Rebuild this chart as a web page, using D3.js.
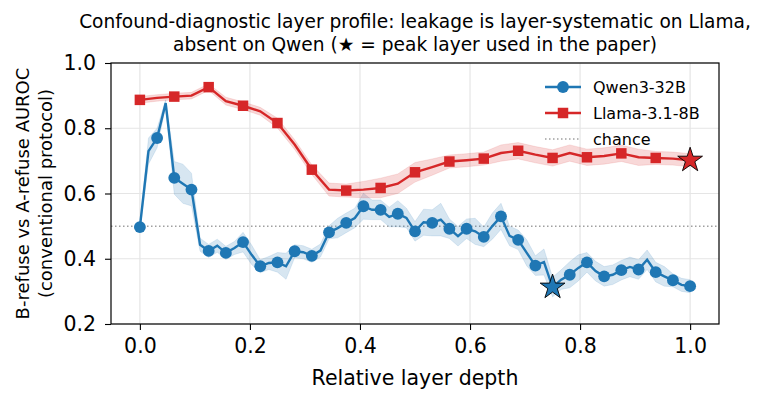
<!DOCTYPE html>
<html lang="en">
  <head>
    <meta charset="UTF-8" />
    <title>Confound-diagnostic layer profile</title>
    <script src="https://d3js.org/d3.v7.min.js"></script>
    <style>
      body { margin: 0; background: #fff; }
      text { font-family: "DejaVu Sans", sans-serif; fill: #000; }
    </style>
  </head>
  <body>
    <div id="chart-container"></div>

    <script>
      // Qwen3-32B: 65 layers (relative depth i/64)
      const qwenAuroc = [
        0.497, 0.73, 0.77, 0.877, 0.648, 0.63, 0.612, 0.443, 0.424, 0.44,
        0.418, 0.433, 0.451, 0.412, 0.377, 0.387, 0.389, 0.377, 0.423, 0.42,
        0.409, 0.425, 0.481, 0.494, 0.51, 0.525, 0.561, 0.55, 0.55, 0.528,
        0.538, 0.525, 0.484, 0.512, 0.51, 0.52, 0.492, 0.469, 0.492, 0.484,
        0.467, 0.5, 0.53, 0.47, 0.458, 0.418, 0.379, 0.39, 0.313, 0.336,
        0.351, 0.372, 0.389, 0.362, 0.346, 0.351, 0.365, 0.375, 0.367, 0.397,
        0.359, 0.346, 0.334, 0.32, 0.316
      ];
      const qwenSpread = [
        0.01, 0.04, 0.03, 0.01, 0.05, 0.06, 0.05, 0.02, 0.02, 0.02,
        0.02, 0.02, 0.03, 0.03, 0.02, 0.02, 0.03, 0.04, 0.02, 0.02,
        0.02, 0.02, 0.02, 0.03, 0.03, 0.03, 0.04, 0.03, 0.03, 0.03,
        0.04, 0.03, 0.03, 0.04, 0.04, 0.05, 0.03, 0.03, 0.03, 0.04,
        0.03, 0.04, 0.04, 0.03, 0.03, 0.04, 0.03, 0.04, 0.03, 0.03,
        0.04, 0.04, 0.03, 0.03, 0.03, 0.03, 0.03, 0.03, 0.03, 0.03,
        0.03, 0.03, 0.02, 0.02, 0.02
      ];
      // Llama-3.1-8B: 33 layers (relative depth i/32)
      const llamaAuroc = [
        0.887, 0.893, 0.897, 0.9, 0.926, 0.883, 0.869, 0.852, 0.816, 0.75,
        0.673, 0.612, 0.609, 0.612, 0.617, 0.63, 0.665, 0.681, 0.698, 0.702,
        0.707, 0.724, 0.731, 0.719, 0.709, 0.724, 0.711, 0.715, 0.723, 0.711,
        0.709, 0.707, 0.702
      ];
      const llamaSpread = [
        0.01, 0.01, 0.01, 0.01, 0.01, 0.012, 0.012, 0.012, 0.015, 0.015,
        0.015, 0.02, 0.02, 0.025, 0.03, 0.03, 0.03, 0.025, 0.02, 0.02,
        0.02, 0.025, 0.025, 0.025, 0.025, 0.025, 0.025, 0.025, 0.025, 0.025,
        0.02, 0.02, 0.02
      ];
      const qwenPeak = 48;   // layer index of star
      const llamaPeak = 32;
      const xTicks = [0.0, 0.2, 0.4, 0.6, 0.8, 1.0];
      const yTicks = [0.2, 0.4, 0.6, 0.8, 1.0];
      const chance = 0.5;

      const blue = "#1f77b4";
      const red = "#d62728";

      const W = 769, H = 402;
      const margin = { top: 63, right: 50, bottom: 78, left: 111 };
      const width = W - margin.left - margin.right;
      const height = H - margin.top - margin.bottom;

      const svg = d3.select("#chart-container").append("svg")
        .attr("width", W).attr("height", H);

      const x = d3.scaleLinear().domain([-0.0525, 1.0525]).range([0, width]);
      const y = d3.scaleLinear().domain([0.2, 1.0]).range([height, 0]);

      const g = svg.append("g")
        .attr("transform", "translate(" + margin.left + "," + margin.top + ")");

      // grid
      g.append("g").selectAll("line").data(xTicks).enter().append("line")
        .attr("x1", d => x(d)).attr("x2", d => x(d))
        .attr("y1", 0).attr("y2", height)
        .attr("stroke", "#e5e5e5").attr("stroke-width", 1.2);
      g.append("g").selectAll("line").data(yTicks).enter().append("line")
        .attr("x1", 0).attr("x2", width)
        .attr("y1", d => y(d)).attr("y2", d => y(d))
        .attr("stroke", "#e5e5e5").attr("stroke-width", 1.2);

      // chance line
      g.append("line")
        .attr("x1", 0).attr("x2", width)
        .attr("y1", y(chance)).attr("y2", y(chance))
        .attr("stroke", "#a0a0a0").attr("stroke-width", 1.5)
        .attr("stroke-dasharray", "1.5,2.5");

      function drawSeries(vals, spread, color, n, symbol, peak) {
        const pts = vals.map((v, i) => ({ d: i / n, v: v, s: spread[i] }));
        const area = d3.area()
          .x(p => x(p.d)).y0(p => y(p.v - p.s)).y1(p => y(p.v + p.s));
        g.append("path").datum(pts).attr("d", area)
          .attr("fill", color).attr("fill-opacity", 0.18)
          .attr("stroke", color).attr("stroke-opacity", 0.12);
        const line = d3.line().x(p => x(p.d)).y(p => y(p.v));
        g.append("path").datum(pts).attr("d", line)
          .attr("fill", "none").attr("stroke", color).attr("stroke-width", 2.4);
        g.selectAll(null)
          .data(pts.filter((p, i) => i % 2 === 0 && i !== peak))
          .enter().append("path")
          .attr("transform", p => "translate(" + x(p.d) + "," + y(p.v) + ")")
          .attr("d", d3.symbol().type(symbol).size(110))
          .attr("fill", color);
        const pk = pts[peak];
        g.append("path")
          .attr("transform", "translate(" + x(pk.d) + "," + y(pk.v) + ")")
          .attr("d", d3.symbol().type(d3.symbolStar).size(190))
          .attr("fill", color).attr("stroke", "#000").attr("stroke-width", 0.9);
      }

      drawSeries(qwenAuroc, qwenSpread, blue, 64, d3.symbolCircle, qwenPeak);
      drawSeries(llamaAuroc, llamaSpread, red, 32, d3.symbolSquare, llamaPeak);

      // frame
      g.append("rect").attr("width", width).attr("height", height)
        .attr("fill", "none").attr("stroke", "#000").attr("stroke-width", 1.2);

      // axes
      const xAxis = g.append("g").attr("transform", "translate(0," + height + ")")
        .call(d3.axisBottom(x).tickValues(xTicks).tickFormat(d3.format(".1f"))
          .tickSize(6).tickPadding(8));
      const yAxis = g.append("g")
        .call(d3.axisLeft(y).tickValues(yTicks).tickFormat(d3.format(".1f"))
          .tickSize(6).tickPadding(9));
      [xAxis, yAxis].forEach(a => {
        a.select(".domain").remove();
        a.selectAll("line").attr("stroke", "#000").attr("stroke-width", 1.1);
        a.selectAll("text").style("font-size", "20.5px")
          .style("font-family", "DejaVu Sans");
      });

      // labels
      svg.append("text")
        .attr("x", margin.left + width / 2).attr("y", 385)
        .attr("text-anchor", "middle").style("font-size", "20.5px")
        .text("Relative layer depth");
      const yl = svg.append("text")
        .attr("transform", "translate(29," + (margin.top + height / 2) + ") rotate(-90)")
        .attr("text-anchor", "middle").style("font-size", "18px");
      yl.append("tspan").attr("x", 0).attr("dy", 0).text("B-refuse vs A-refuse AUROC");
      yl.append("tspan").attr("x", 0).attr("dy", 23).text("(conventional protocol)");

      const title = svg.append("text").attr("text-anchor", "middle")
        .style("font-size", "18.6px");
      title.append("tspan").attr("x", margin.left + width / 2).attr("y", 28)
        .text("Confound-diagnostic layer profile: leakage is layer-systematic on Llama,");
      title.append("tspan").attr("x", margin.left + width / 2).attr("y", 51)
        .text("absent on Qwen (\u2605 = peak layer used in the paper)");

      // legend
      const legend = [
        { name: "Qwen3-32B", color: blue, sym: d3.symbolCircle, dash: null },
        { name: "Llama-3.1-8B", color: red, sym: d3.symbolSquare, dash: null },
        { name: "chance", color: "#a0a0a0", sym: null, dash: "1.5,2.5" }
      ];
      const lg = svg.append("g").attr("transform", "translate(545,87)");
      legend.forEach((l, i) => {
        const row = lg.append("g").attr("transform", "translate(0," + i * 26 + ")");
        row.append("line").attr("x1", 0).attr("x2", 36)
          .attr("stroke", l.color)
          .attr("stroke-width", l.dash ? 1.5 : 2.4)
          .attr("stroke-dasharray", l.dash);
        if (l.sym) {
          row.append("path").attr("transform", "translate(18,0)")
            .attr("d", d3.symbol().type(l.sym).size(110)).attr("fill", l.color);
        }
        row.append("text").attr("x", 48).attr("y", 6)
          .style("font-size", "16px").text(l.name);
      });
    </script>
  </body>
</html>
